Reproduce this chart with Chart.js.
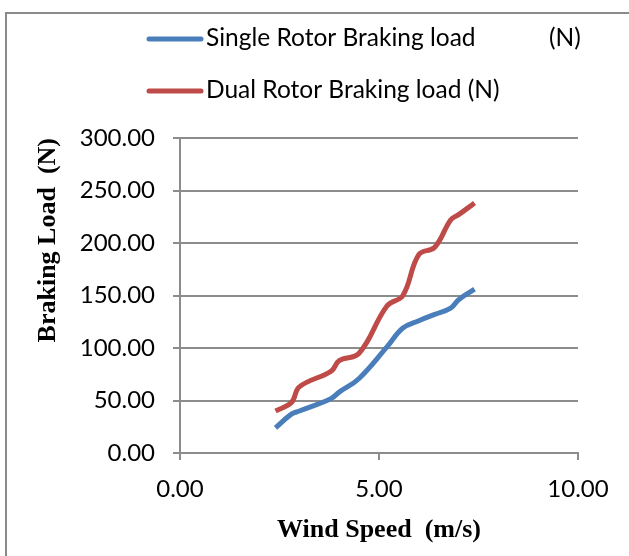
<!DOCTYPE html>
<html>
<head>
<meta charset="utf-8">
<script src="https://cdn.jsdelivr.net/npm/chart.js@4"></script>
<style>
  html, body { margin: 0; padding: 0; background: #fff; }
  #wrap { position: relative; width: 629px; height: 556px; }
</style>
</head>
<body>
<div id="wrap"><canvas id="chart" width="629" height="556"></canvas></div>
<script>
// values
const windSpeed = [2.4, 2.8, 3.0, 3.8, 4.0, 4.5, 5.2, 5.6, 6.0, 6.4, 6.8, 7.0, 7.4];
const singleRotor = [24, 37, 40, 52, 58, 71, 101, 119, 126, 132, 138, 146, 156];
const dualRotor = [40, 48, 63, 78, 88, 95, 140, 150, 189, 196, 222, 227, 238];
const seriesNames = ['Single Rotor Braking load', 'Dual Rotor Braking load (N)'];
const seriesColors = ['#4A7EBB', '#BE4B48'];
const xTicks = [0, 5, 10];
const yTicks = [0, 50, 100, 150, 200, 250, 300];

const tickFont = { family: 'Lato', size: 24 };
const titleFont = { family: 'Liberation Serif', size: 26, weight: 'bold' };
const gridColor = '#8c8c8c';

const toPoints = (ys) => windSpeed.map((x, i) => ({ x: x, y: ys[i] }));

// outer frame + legend, drawn by hand so the two rows line up like the original
const framePlugin = {
  id: 'frame',
  afterDraw(chart) {
    const ctx = chart.ctx;
    ctx.save();
    // only the top and left edges of the frame are inside the picture
    ctx.strokeStyle = '#8a8a8a';
    ctx.lineWidth = 2;
    ctx.beginPath();
    ctx.moveTo(6, 556);
    ctx.lineTo(6, 13);
    ctx.lineTo(629, 13);
    ctx.stroke();

    ctx.font = '24.5px Lato';
    ctx.textBaseline = 'middle';
    ctx.fillStyle = '#000';
    const rows = [39, 91];
    seriesNames.forEach((name, i) => {
      const y = rows[i];
      ctx.strokeStyle = seriesColors[i];
      ctx.lineWidth = 5;
      ctx.lineCap = 'round';
      ctx.beginPath();
      ctx.moveTo(149, y);
      ctx.lineTo(201, y);
      ctx.stroke();
      ctx.fillText(name, 206, y - 1);
    });
    // unit of the first row sits far to the right in the original
    ctx.fillText('(N)', 549, rows[0] - 1);
    ctx.restore();
  }
};

new Chart(document.getElementById('chart'), {
  type: 'line',
  data: {
    datasets: [
      {
        label: seriesNames[0],
        data: toPoints(singleRotor),
        borderColor: seriesColors[0],
        borderWidth: 5,
        pointRadius: 0,
        tension: 0.4,
        fill: false
      },
      {
        label: seriesNames[1],
        data: toPoints(dualRotor),
        borderColor: seriesColors[1],
        borderWidth: 5,
        pointRadius: 0,
        tension: 0.4,
        fill: false
      }
    ]
  },
  options: {
    responsive: false,
    animation: false,
    events: [],
    layout: { padding: { top: 138, right: 51, left: 0, bottom: 0 } },
    plugins: {
      legend: { display: false },
      tooltip: { enabled: false }
    },
    scales: {
      x: {
        type: 'linear',
        min: 0,
        max: 10,
        afterBuildTicks: (scale) => { scale.ticks = xTicks.map(v => ({ value: v })); },
        afterFit: (scale) => { scale.height = 103; },
        ticks: {
          font: tickFont,
          color: '#000',
          padding: 15,
          maxRotation: 0,
          callback: (v) => Number(v).toFixed(2)
        },
        grid: { drawOnChartArea: false, tickLength: 7, color: gridColor, lineWidth: 2 },
        border: { color: gridColor, width: 2 },
        title: {
          display: true,
          text: 'Wind Speed  (m/s)',
          font: titleFont,
          color: '#000',
          padding: { top: 0, bottom: 10 }
        }
      },
      y: {
        min: 0,
        max: 300,
        afterBuildTicks: (scale) => { scale.ticks = yTicks.map(v => ({ value: v })); },
        afterFit: (scale) => { scale.width = 180; },
        ticks: {
          font: tickFont,
          color: '#000',
          padding: 18,
          callback: (v) => Number(v).toFixed(2)
        },
        grid: { tickLength: 7, color: gridColor, lineWidth: 2 },
        border: { color: gridColor, width: 2 },
        title: {
          display: true,
          text: 'Braking Load  (N)',
          align: 'end',
          font: titleFont,
          color: '#000',
          padding: { top: 33, bottom: 0 }
        }
      }
    }
  },
  plugins: [framePlugin]
});
</script>
</body>
</html>
